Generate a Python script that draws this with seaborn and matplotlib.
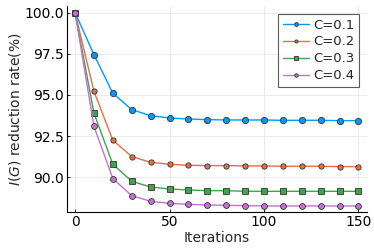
import numpy as np
import pandas as pd
import matplotlib
matplotlib.use('Agg')
import matplotlib.pyplot as plt
import seaborn as sns

iterations = [0, 10, 20, 30, 40, 50, 60, 70, 80, 90, 100, 110, 120, 130, 140, 150]
c01 = [100.0, 97.45, 95.10, 94.11, 93.74, 93.60, 93.54, 93.50, 93.48, 93.48, 93.48, 93.46, 93.46, 93.46, 93.44, 93.44]
c02 = [100.0, 95.22, 92.25, 91.26, 90.91, 90.79, 90.73, 90.71, 90.71, 90.69, 90.69, 90.67, 90.67, 90.67, 90.65, 90.65]
c03 = [100.0, 93.89, 90.79, 89.76, 89.41, 89.29, 89.23, 89.19, 89.19, 89.15, 89.15, 89.15, 89.15, 89.15, 89.15, 89.15]
c04 = [100.0, 93.10, 89.92, 88.89, 88.54, 88.42, 88.36, 88.32, 88.30, 88.28, 88.26, 88.26, 88.26, 88.26, 88.26, 88.26]
labels = ['C=0.1', 'C=0.2', 'C=0.3', 'C=0.4']

colors = ['#009AFA', '#E36F47', '#3EA44E', '#C371D2']
markers = ['o', 'o', 's', 'o']
msizes = [4.5, 3.8, 4.5, 4.2]

df = pd.concat([pd.DataFrame({'it': iterations, 'val': v, 'C': lab})
                for v, lab in zip([c01, c02, c03, c04], labels)])

sns.set_style('ticks')
plt.rcParams['font.family'] = ['DejaVu Sans']

fig = plt.figure(figsize=(3.74, 2.49), dpi=100)
ax = fig.add_axes([0.178, 0.149, 0.803, 0.827])

for lab, col, mk, ms in zip(labels, colors, markers, msizes):
    sub = df[df['C'] == lab]
    sns.lineplot(x='it', y='val', data=sub, ax=ax, color=col, marker=mk,
                 markersize=ms, markeredgecolor='#333333', markeredgewidth=0.6,
                 linewidth=1.0, label=lab)

ax.set_xlim(-4.5, 154.5)
ax.set_ylim(87.9, 100.4)
ax.set_xticks([0, 50, 100, 150])
ax.set_yticks([90.0, 92.5, 95.0, 97.5, 100.0])
ax.set_yticklabels(['90.0', '92.5', '95.0', '97.5', '100.0'])
ax.grid(True, color='#e8e8e8', linewidth=0.6)
ax.tick_params(labelsize=10, length=2, width=0.6, direction='in', pad=2, colors='black')
sns.despine(ax=ax)
for s in ['left', 'bottom']:
    ax.spines[s].set_linewidth(0.8)
    ax.spines[s].set_color('black')

ax.set_xlabel('Iterations', fontsize=10, labelpad=2)
ax.set_ylabel('$I(G)$ reduction rate(%)', fontsize=10, labelpad=1)

leg = ax.legend(loc='upper right', fontsize=9.5, frameon=True, fancybox=False,
                handlelength=2.0, handletextpad=0.3, borderpad=0.35, labelspacing=0.3,
                borderaxespad=0.6, markerscale=0.6)
leg.get_frame().set_edgecolor('#333333')
leg.get_frame().set_linewidth(0.8)

fig.savefig('out.png', dpi=100)
